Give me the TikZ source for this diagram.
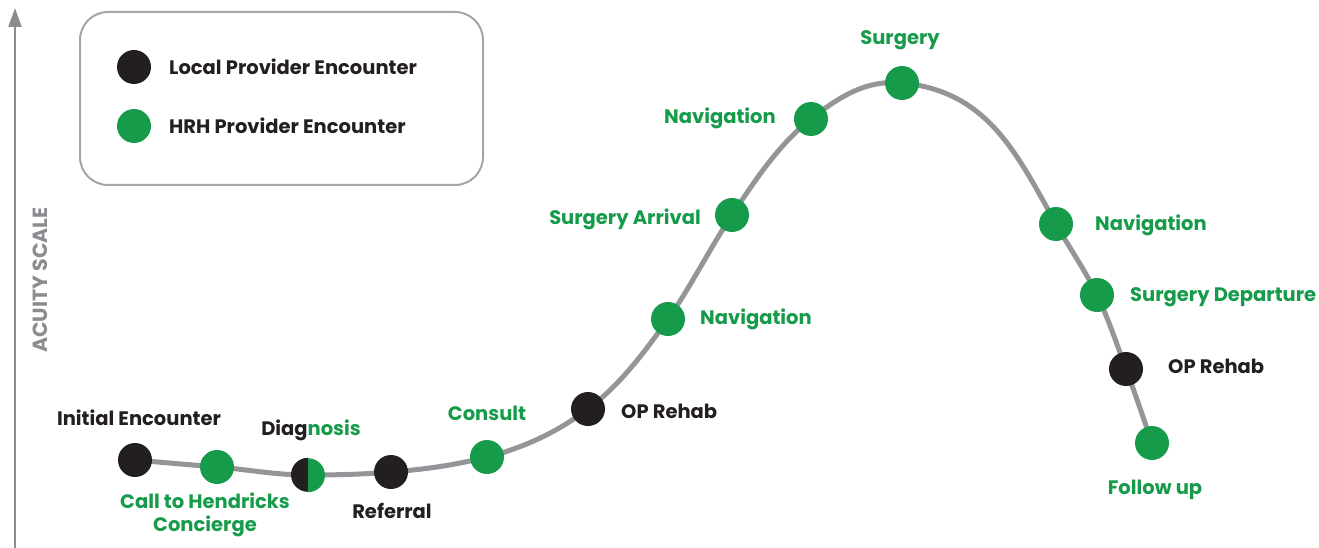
\documentclass[tikz,border=0pt]{standalone}
\usepackage{fontspec}
\setmainfont{Poppins}
\usetikzlibrary{arrows.meta}
\definecolor{hgreen}{HTML}{169B4A}
\definecolor{hblack}{HTML}{231F20}
\definecolor{curvegray}{HTML}{939598}
\definecolor{axisgray}{HTML}{8A8C8F}
\tikzset{
  dotnode/.style={circle, minimum size=34pt, inner sep=0pt},
  localdot/.style={dotnode, fill=hblack},
  hrhdot/.style={dotnode, fill=hgreen},
  lbl/.style={font=\bfseries\fontsize{19.5}{23}\selectfont, inner sep=0pt},
  glbl/.style={lbl, text=hgreen},
  blbl/.style={lbl, text=hblack},
}
\begin{document}
\begin{tikzpicture}[x=1pt,y=-1pt]
\useasboundingbox (0,0) rectangle (1319,548);
% axis
\coordinate (axb) at (15,548);
\coordinate (axt) at (15,8);
\draw[axisgray, line width=2.3pt, -{Triangle[length=19pt,width=13pt]}] (axb) -- (axt);
\node[rotate=90, font=\bfseries\fontsize{20.5}{24}\selectfont, text=axisgray] (acuity) at (40,280) {ACUITY SCALE};
% legend
\node[draw=curvegray!85, line width=2pt, rounded corners=28pt, minimum width=403pt, minimum height=173pt, anchor=north west] (legend) at (79,11) {};
\node[localdot] (leg1) at (134,67) {};
\node[hrhdot] (leg2) at (134,126) {};
\node[blbl, anchor=west] (leg1t) at (169,67) {Local Provider Encounter};
\node[blbl, anchor=west] (leg2t) at (169,126) {HRH Provider Encounter};
% curve points
\coordinate (p1) at (135,460);
\coordinate (p2) at (217,467);
\coordinate (p3) at (308,475);
\coordinate (p4) at (391,472);
\coordinate (p5) at (487,457);
\coordinate (p6) at (588,409);
\coordinate (p7) at (668,319);
\coordinate (p8) at (732,215);
\coordinate (p9) at (811,119);
\coordinate (p10) at (902,83);
\coordinate (p11) at (1056,224);
\coordinate (p12) at (1097,295);
\coordinate (p13) at (1126,369);
\coordinate (p14) at (1152,443);
\draw[curvegray, line width=5pt]
  (p1) .. controls +(30,2.7) and +(-30,-2.4) .. (p2)
       .. controls +(33,2.7) and +(-33,0) .. (p3)
       .. controls +(30,0) and +(-30,2.4) .. (p4)
       .. controls +(34,-2.7) and +(-34,8.5) .. (p5)
       .. controls +(38,-9.5) and +(-30,22.5) .. (p6)
       .. controls +(32,-24) and +(-23,32.6) .. (p7)
       .. controls +(23,-32.6) and +(-22,33) .. (p8)
       .. controls +(22,-33) and +(-33,26) .. (p9)
       .. controls +(29,-23) and +(-35,-3.5) .. (p10)
       .. controls +(85,8) and +(-40,-72) .. (p11)
       .. controls +(13.6,24.5) and +(-12,-25.2) .. (p12)
       .. controls +(11.6,24.3) and +(-9.4,-25.3) .. (p13)
       .. controls +(9.4,25.3) and +(-8.8,-25.5) .. (p14);
% dots
\node[localdot] (n1) at (p1) {};
\node[hrhdot] (n2) at (p2) {};
\node[dotnode] (n3) at (p3) {};
\fill[hblack] (n3.north) arc[start angle=90, end angle=270, radius=17pt] -- cycle;
\fill[hgreen] (n3.south) arc[start angle=-90, end angle=90, radius=17pt] -- cycle;
\node[localdot] (n4) at (p4) {};
\node[hrhdot] (n5) at (p5) {};
\node[localdot] (n6) at (p6) {};
\node[hrhdot] (n7) at (p7) {};
\node[hrhdot] (n8) at (p8) {};
\node[hrhdot] (n9) at (p9) {};
\node[hrhdot] (n10) at (p10) {};
\node[hrhdot] (n11) at (p11) {};
\node[hrhdot] (n12) at (p12) {};
\node[localdot] (n13) at (p13) {};
\node[hrhdot] (n14) at (p14) {};
% labels
\node[blbl] (l1) at (139,418) {Initial Encounter};
\node[glbl, align=center] (l2) at (205,515) {Call to Hendricks\\Concierge};
\node[lbl] (l3) at (311,430) {\textcolor{hblack}{Diag}\textcolor{hgreen}{nosis}};
\node[blbl] (l4) at (392,511) {Referral};
\node[glbl] (l5) at (487,413) {Consult};
\node[blbl, anchor=west] (l6) at (621,411) {OP Rehab};
\node[glbl, anchor=west] (l7) at (700,319) {Navigation};
\node[glbl, anchor=east] (l8) at (701,219) {Surgery Arrival};
\node[glbl, anchor=east] (l9) at (776,118) {Navigation};
\node[glbl] (l10) at (900,40) {Surgery};
\node[glbl, anchor=west] (l11) at (1095,225) {Navigation};
\node[glbl, anchor=west] (l12) at (1130,297) {Surgery Departure};
\node[blbl, anchor=west] (l13) at (1168,366) {OP Rehab};
\node[glbl] (l14) at (1155,490) {Follow up};
\end{tikzpicture}
\end{document}
